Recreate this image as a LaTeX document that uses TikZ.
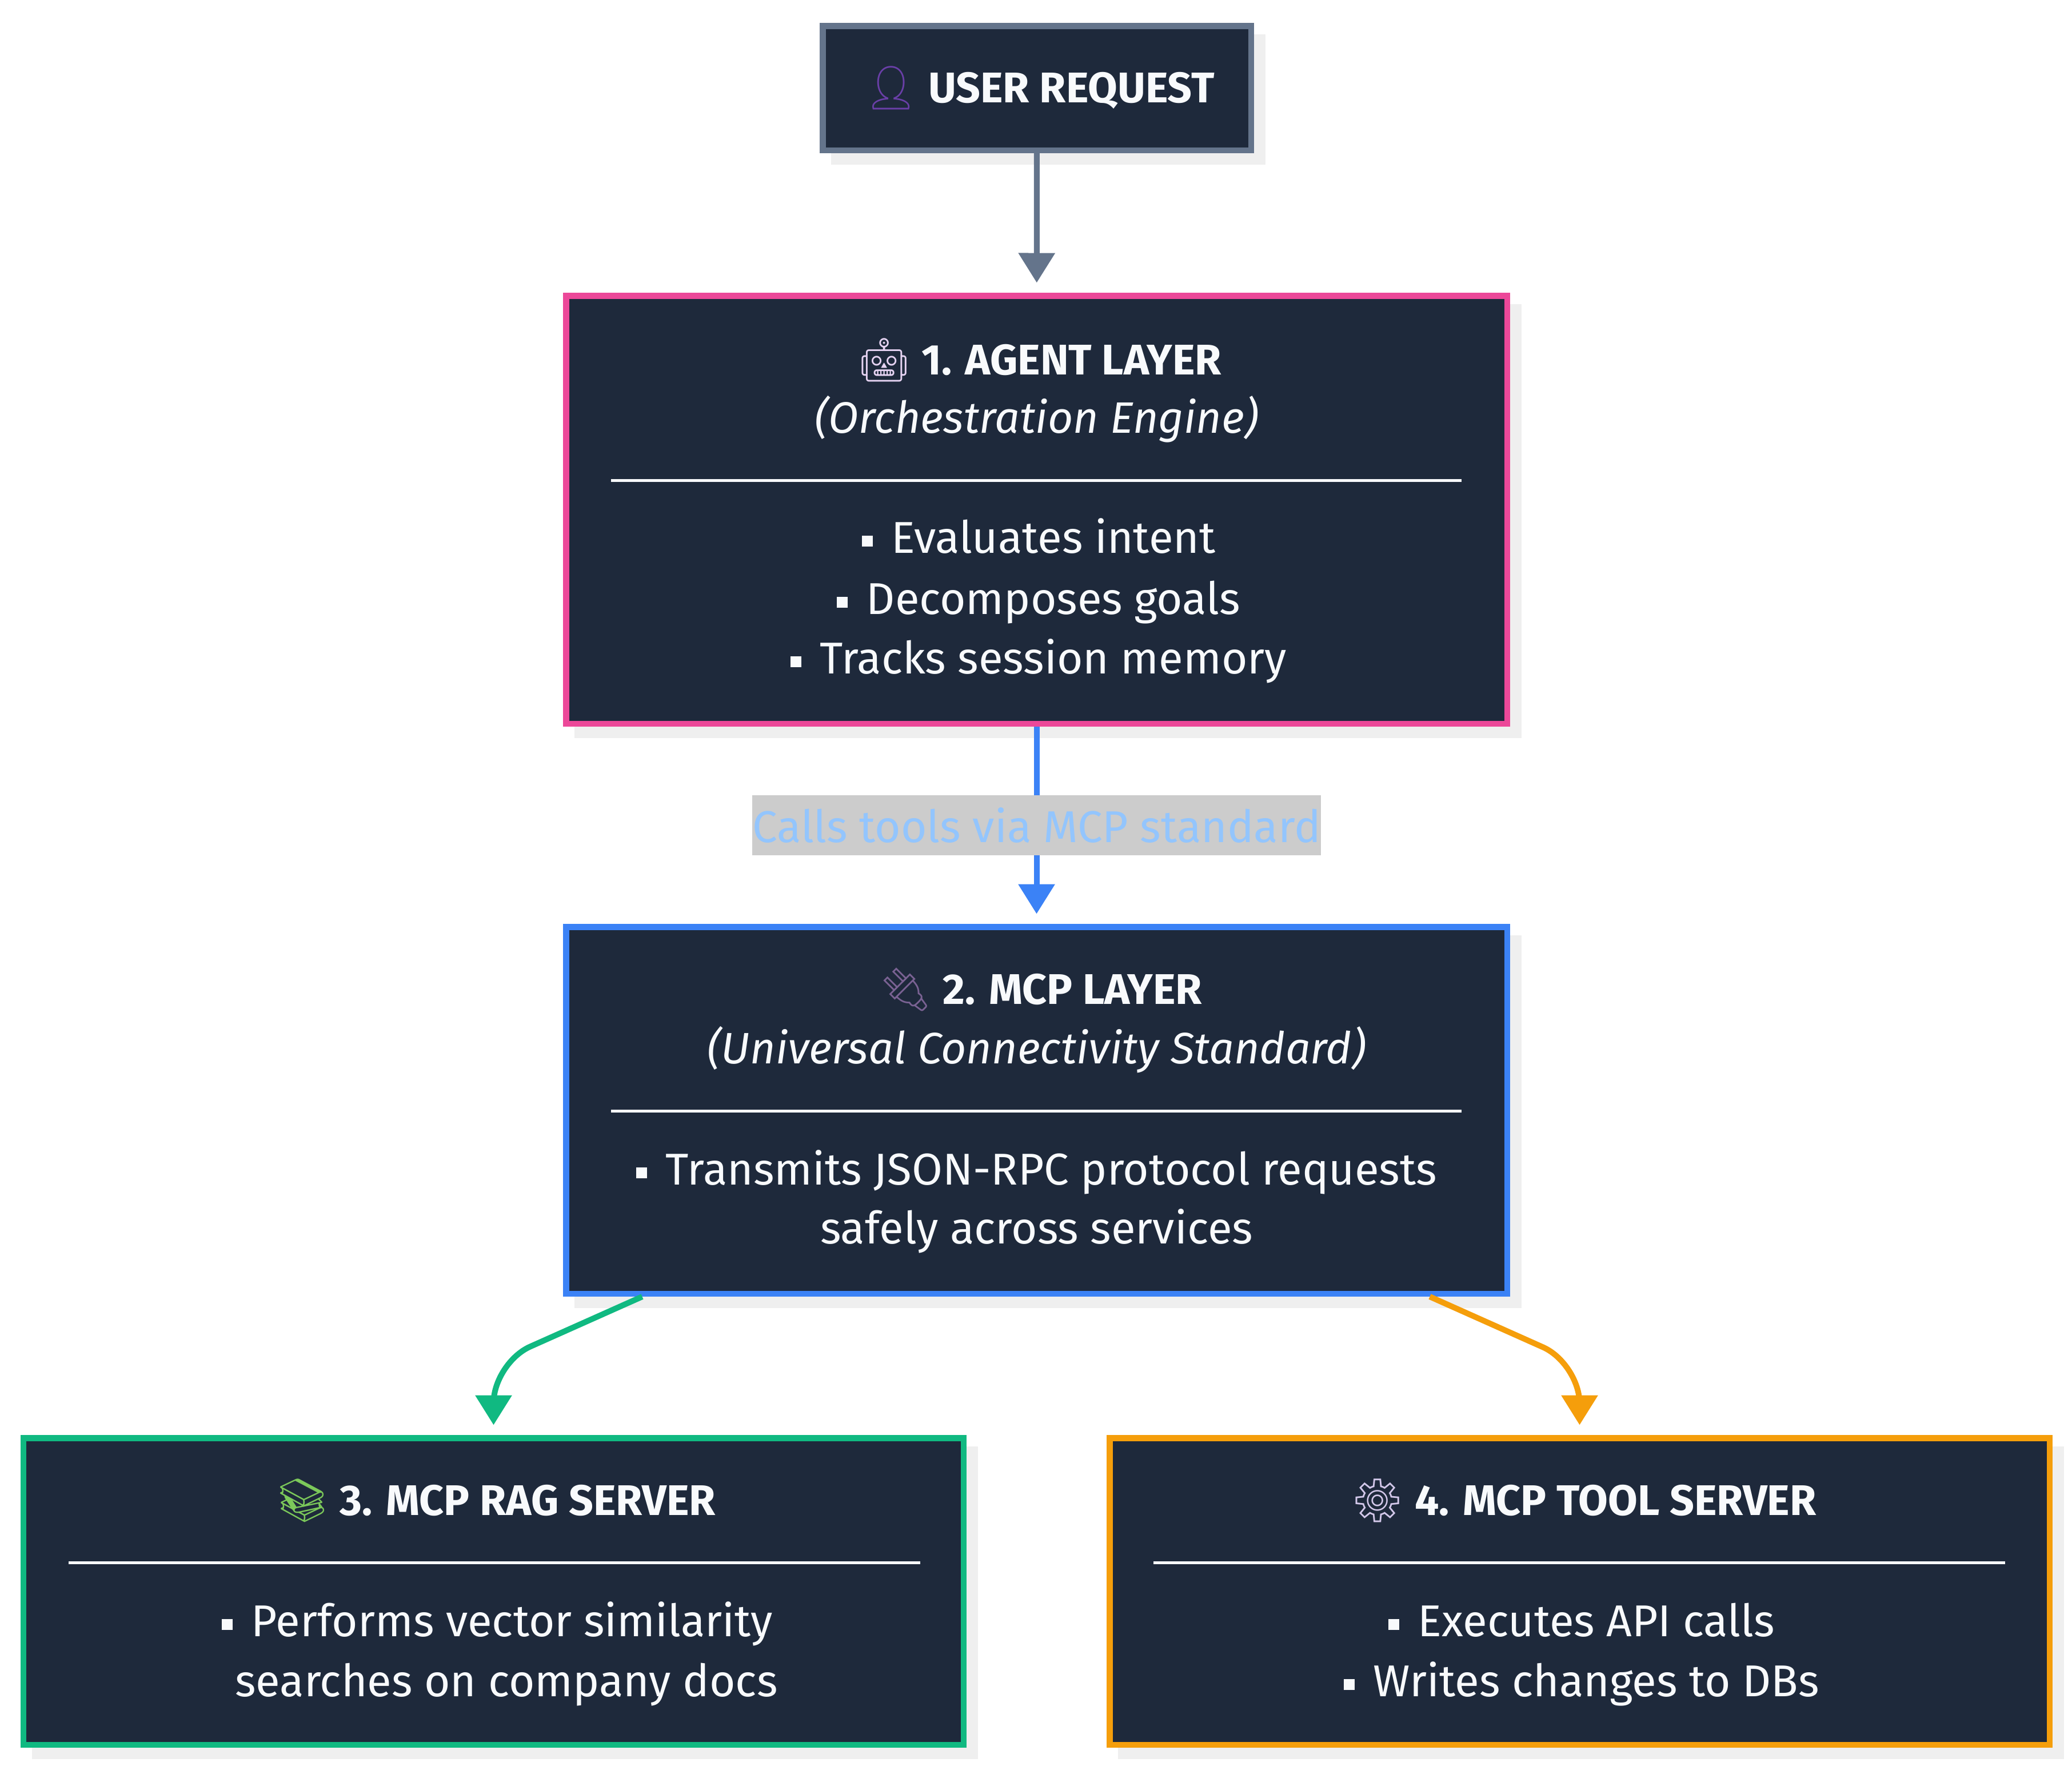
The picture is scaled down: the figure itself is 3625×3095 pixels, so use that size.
\documentclass[tikz,border=0pt]{standalone}
\usepackage{fontspec}
\setmainfont{Fira Sans}
\newfontfamily\emojifont{Noto Emoji}
\usetikzlibrary{arrows.meta,calc,shadows}
\definecolor{navy}{HTML}{1E293B}
\definecolor{slateb}{HTML}{64748B}
\definecolor{pinkb}{HTML}{EC4899}
\definecolor{blueb}{HTML}{3B82F6}
\definecolor{greenb}{HTML}{10B981}
\definecolor{orangeb}{HTML}{F59E0B}
\definecolor{shadowc}{HTML}{EFEFEF}
\definecolor{lblbg}{HTML}{CCCCCC}
\definecolor{lbltxt}{HTML}{93C5FD}
\definecolor{txt}{HTML}{F8FAFC}
\definecolor{emuser}{HTML}{6A3FA8}
\definecolor{emrobot}{HTML}{E6D3F2}
\definecolor{emplug}{HTML}{7A6293}
\definecolor{embooks}{HTML}{7CC95A}
\definecolor{emgear}{HTML}{D3C8EA}
\newcommand{\bul}{\rule[2.2pt]{3.8pt}{3.8pt}\hspace{6.5pt}}
\newcommand{\emo}[2]{{\emojifont\color{#1}#2}}
\begin{document}
\begin{tikzpicture}[x=0.2pt,y=-0.2pt,
  box/.style={draw=#1, fill=navy, line width=2.1pt, inner sep=0pt, outer sep=1.05pt,
    drop shadow={shadow xshift=4pt, shadow yshift=-4pt, fill=shadowc, draw=shadowc, line width=2.1pt, opacity=1}},
  ttl/.style={font=\bfseries\fontsize{15}{18}\selectfont, text=txt, anchor=base, inner sep=0pt},
  sub/.style={font=\itshape\fontsize{15.4}{18}\selectfont, text=txt, anchor=base, inner sep=0pt},
  body/.style={font=\fontsize{15.6}{18}\selectfont, text=txt, anchor=base, inner sep=0pt},
  divider/.style={draw=txt, line width=1pt},
  arr/.style={draw=#1, line width=2pt, -{Triangle[width=12.4pt,length=10.4pt]}, shorten >=3.5pt},
  lbl/.style={fill=lblbg, text=lbltxt, font=\fontsize{15.6}{18}\selectfont, inner xsep=0pt, inner ysep=0pt, minimum height=21pt}
]
\useasboundingbox[fill=white] (0,0) rectangle (3625,3095);

% boxes
\node[box=slateb, minimum width=149.9pt, minimum height=43.5pt] (user) at (1814,154) {};
\node[box=pinkb, minimum width=329.3pt, minimum height=149.7pt] (agent) at (1813.5,891.5) {};
\node[box=blueb, minimum width=329.3pt, minimum height=128.3pt] (mcp) at (1813.5,1942) {};
\node[box=greenb, minimum width=328.9pt, minimum height=107.3pt] (rag) at (863.5,2783.5) {};
\node[box=orangeb, minimum width=328.9pt, minimum height=107.3pt] (tool) at (2763.5,2783.5) {};

% user
\node[ttl] (usert) at (1818,179) {\emo{emuser}{👤} USER REQUEST};

% agent
\node[ttl] (agentt) at (1818,655) {\emo{emrobot}{🤖} 1. AGENT LAYER};
\node[sub] (agents) at (1813.5,757) {(Orchestration Engine)};
\draw[divider] (1069,840) -- (2557,840);
\node[body] (agentb1) at (1817,967) {\bul Evaluates intent};
\node[body] (agentb2) at (1817,1074) {\bul Decomposes goals};
\node[body] (agentb3) at (1817,1178) {\bul Tracks session memory};

% mcp
\node[ttl] (mcpt) at (1820,1756) {\emo{emplug}{🔌} 2. MCP LAYER};
\node[sub] (mcps) at (1813.5,1860) {(Universal Connectivity Standard)};
\draw[divider] (1069,1943) -- (2557,1943);
\node[body] (mcpb1) at (1813.5,2072) {\bul Transmits JSON-RPC protocol requests};
\node[body] (mcpb2) at (1813.5,2175) {safely across services};

% rag
\node[ttl] (ragt) at (867,2650) {\emo{embooks}{📚} 3. MCP RAG SERVER};
\draw[divider] (120,2733) -- (1610,2733);
\node[body] (ragb1) at (870,2862) {\bul Performs vector similarity};
\node[body] (ragb2) at (886,2967) {searches on company docs};

% tool
\node[ttl] (toolt) at (2770,2650) {\emo{emgear}{⚙} 4. MCP TOOL SERVER};
\draw[divider] (2018,2733) -- (3508,2733);
\node[body] (toolb1) at (2767,2862) {\bul Executes API calls};
\node[body] (toolb2) at (2767,2967) {\bul Writes changes to DBs};

% connectors
\draw[arr=slateb] (user) -- (agent);
\draw[arr=blueb] (agent) -- (mcp) node[midway, lbl] (lab) {Calls tools via MCP standard};
\draw[arr=greenb, rounded corners=14pt] ($(mcp.south)+(-690,0)$) -- ($(rag.north)+(0,-126)$) -- (rag.north);
\draw[arr=orangeb, rounded corners=14pt] ($(mcp.south)+(688,0)$) -- ($(tool.north)+(0,-125)$) -- (tool.north);
\end{tikzpicture}
\end{document}
